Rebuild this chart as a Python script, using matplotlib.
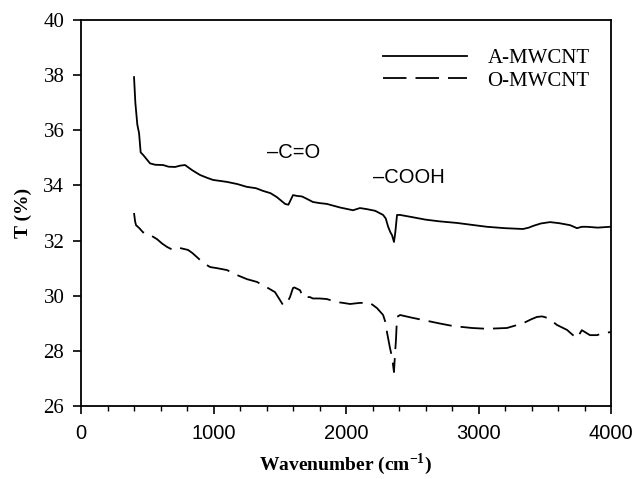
import matplotlib
matplotlib.use("Agg")
import matplotlib.pyplot as plt
from matplotlib.ticker import MultipleLocator

plt.rcParams["mathtext.fontset"] = "custom"
plt.rcParams["mathtext.rm"] = "Liberation Serif"
plt.rcParams["mathtext.bf"] = "Liberation Serif:bold"

# A-MWCNT (solid)
a_x = [400, 410, 425, 438, 450, 470, 521, 560, 620, 660, 710, 750, 785, 840, 898, 950, 996,
       1100, 1180, 1250, 1320, 1375, 1430, 1477, 1510, 1540, 1565, 1585, 1600, 1630, 1668,
       1710, 1750, 1800, 1855, 1955, 2053, 2105, 2158, 2220, 2280, 2300, 2318, 2335, 2347,
       2362, 2372, 2385, 2408, 2500, 2600, 2700, 2837, 2950, 3064, 3200, 3336, 3380, 3411,
       3470, 3540, 3610, 3690, 3720, 3743, 3780, 3818, 3900, 3992]
a_y = [37.93, 37.0, 36.2, 35.9, 35.2, 35.1, 34.8, 34.75, 34.74, 34.68, 34.67, 34.72, 34.74,
       34.55, 34.38, 34.28, 34.2, 34.13, 34.05, 33.95, 33.9, 33.8, 33.72, 33.58, 33.45, 33.33,
       33.3, 33.5, 33.65, 33.62, 33.6, 33.5, 33.4, 33.36, 33.33, 33.2, 33.1, 33.18, 33.14,
       33.08, 32.93, 32.8, 32.5, 32.3, 32.2, 31.95, 32.3, 32.93, 32.93, 32.85, 32.76, 32.7,
       32.64, 32.57, 32.5, 32.45, 32.42, 32.47, 32.53, 32.62, 32.67, 32.63, 32.56, 32.5, 32.45,
       32.5, 32.5, 32.47, 32.5]

# O-MWCNT (dashed)
o_x = [400, 408, 415, 440, 468, 506, 540, 574, 610, 649, 694, 720, 747, 808, 840, 875, 920,
       974, 1026, 1102, 1177, 1253, 1328, 1404, 1464, 1502, 1525, 1550, 1577, 1600, 1610,
       1653, 1675, 1728, 1750, 1800, 1855, 1930, 1978, 2030, 2105, 2181, 2234, 2280, 2300,
       2309, 2332, 2347, 2362, 2370, 2377, 2385, 2408, 2500, 2581, 2700, 2808, 2950, 3064,
       3215, 3336, 3400, 3441, 3480, 3517, 3550, 3592, 3630, 3668, 3713, 3743, 3780, 3841,
       3895, 3940, 4000]
o_y = [33.0, 32.7, 32.56, 32.45, 32.3, 32.27, 32.15, 32.05, 31.9, 31.77, 31.66, 31.7, 31.73,
       31.66, 31.55, 31.4, 31.2, 31.04, 31.0, 30.93, 30.75, 30.6, 30.5, 30.3, 30.13, 29.84,
       29.66, 29.7, 29.95, 30.28, 30.3, 30.2, 29.95, 29.95, 29.9, 29.9, 29.88, 29.77, 29.74,
       29.7, 29.74, 29.74, 29.55, 29.3, 29.0, 28.68, 28.1, 27.78, 27.23, 27.9, 28.4, 29.23,
       29.3, 29.2, 29.12, 29.0, 28.9, 28.83, 28.8, 28.83, 29.0, 29.15, 29.23, 29.25, 29.2,
       29.1, 28.94, 28.85, 28.76, 28.57, 28.46, 28.75, 28.57, 28.57, 28.65, 28.68]

series_labels = ["A-MWCNT", "O-MWCNT"]
annotations = [("\u2013C=O", 1404, 35.18), ("\u2013COOH", 2204, 34.27)]

fig = plt.figure(figsize=(6.36, 4.79), dpi=100)
ax = fig.add_axes([0.1274, 0.1524, 0.8333, 0.8058])

ax.plot(a_x, a_y, color="black", lw=1.3, label=series_labels[0])
ax.plot(o_x, o_y, color="black", lw=1.3, dashes=(13, 5), label=series_labels[1])

ax.set_xlim(0, 4000)
ax.set_ylim(26, 40)
ax.xaxis.set_major_locator(MultipleLocator(1000))
ax.xaxis.set_minor_locator(MultipleLocator(200))
ax.yaxis.set_major_locator(MultipleLocator(2))
ax.tick_params(axis="x", which="major", direction="out", length=6, width=1.2, pad=7)
ax.tick_params(axis="y", which="major", direction="out", length=6, width=1.2, pad=6)
ax.tick_params(axis="x", which="minor", direction="out", length=3.5, width=1.0)
for sp in ax.spines.values():
    sp.set_linewidth(1.3)

for lab in ax.get_xticklabels():
    lab.set_fontfamily("Liberation Sans")
    lab.set_fontsize(14.5)
for lab in ax.get_yticklabels():
    lab.set_fontfamily("Liberation Serif")
    lab.set_fontsize(15)

ax_center_x = 0.1274 + 0.8333 / 2
fig.text(ax_center_x, 0.018, "Wavenumber (cm$^{\\mathbf{-1}}$)", fontfamily="Liberation Serif",
         fontweight="bold", fontsize=14, ha="center", va="baseline")
ax.set_ylabel("T (%)", fontfamily="Liberation Serif", fontweight="bold", fontsize=14,
              labelpad=8)

for txt, xx, yy in annotations:
    ax.text(xx, yy, txt, fontfamily="Liberation Sans", fontsize=14.5, va="center", ha="left")

leg = ax.legend(loc="upper right", bbox_to_anchor=(0.995, 0.975), frameon=False,
                prop={"family": "Liberation Serif", "size": 15}, handlelength=4.0,
                handletextpad=1.0, labelspacing=0.15)

fig.savefig("out.png", dpi=100)
